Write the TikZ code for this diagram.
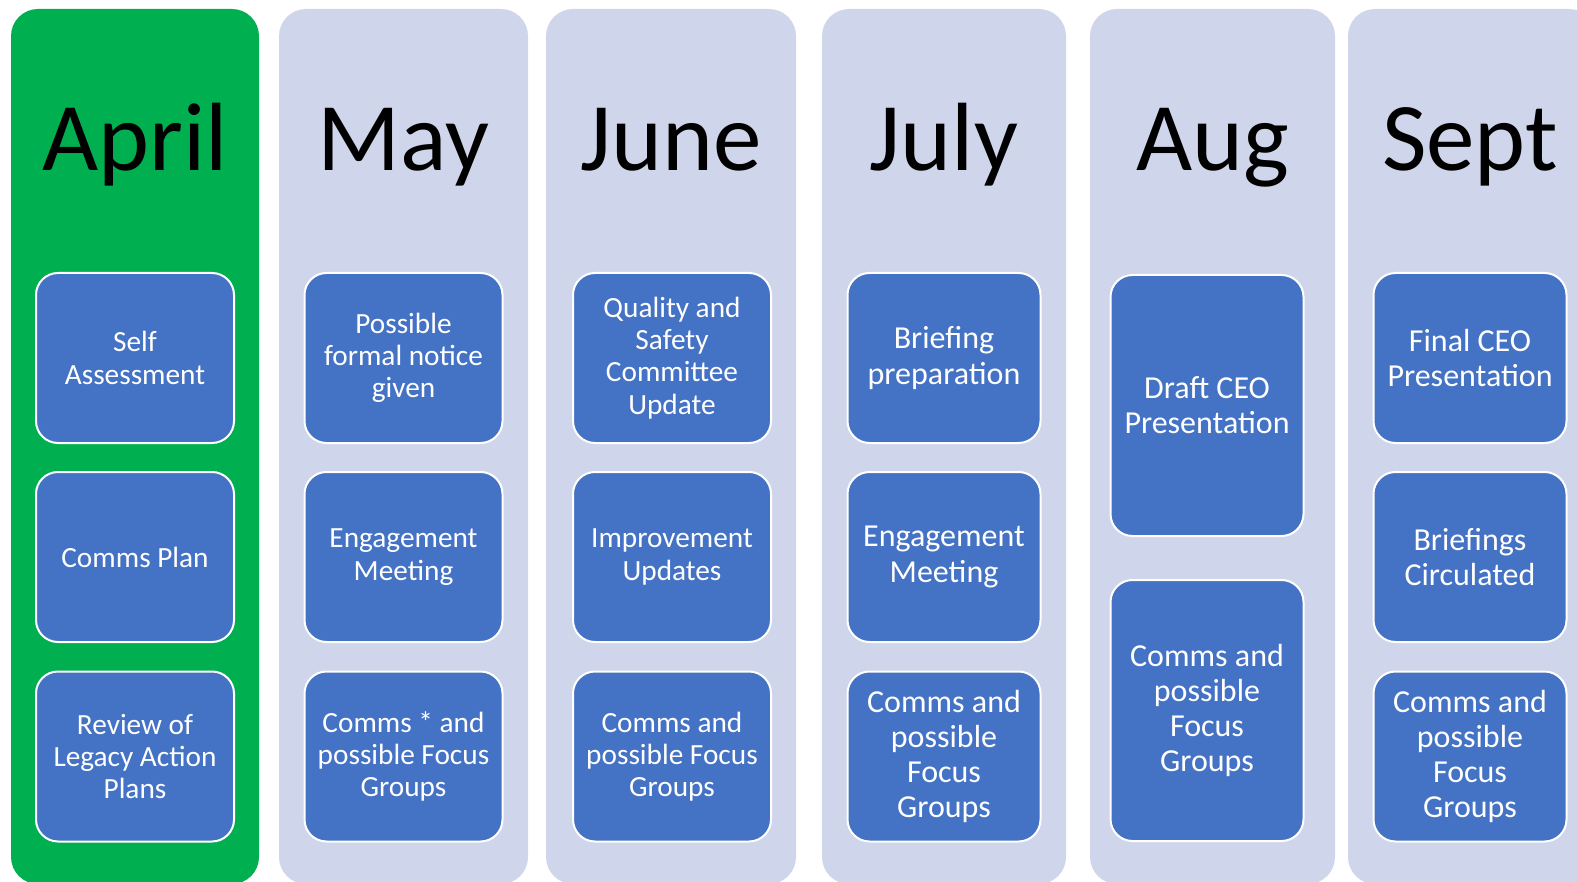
\documentclass[tikz,border=0pt]{standalone}
\usepackage{fontspec}
\setmainfont{Carlito}
\definecolor{aprilgreen}{HTML}{00B050}
\definecolor{monthgrey}{HTML}{CFD5EA}
\definecolor{taskblue}{HTML}{4472C4}
\begin{document}
\begin{tikzpicture}[x=1pt,y=-1pt]
	\tikzstyle{Column} = [rounded corners=27pt]
	\tikzstyle{Title} = [font=\fontsize{97}{97}\selectfont, anchor=base, inner sep=0pt]
	\tikzstyle{Task} = [rectangle, rounded corners=22pt, minimum width=198pt, minimum height=170pt, draw=white, line width=2pt, fill=taskblue, text=white, align=center, inner sep=0pt, font=\fontsize{29.3}{32.3}\selectfont]
	\tikzstyle{TaskBig} = [Task, minimum width=193pt, font=\fontsize{32}{35.2}\selectfont]
	
	\clip (0,0) rectangle (1577,882);
	\fill [Column, aprilgreen] (11,9) rectangle (259,884);
	\fill [Column, monthgrey] (279,9) rectangle (528,884);
	\fill [Column, monthgrey] (546,9) rectangle (796,884);
	\fill [Column, monthgrey] (822,9) rectangle (1066,884);
	\fill [Column, monthgrey] (1090,9) rectangle (1335,884);
	\fill [Column, monthgrey] (1348,9) rectangle (1596,884);
	
	\node (april) [Title] at (135,171) {April};
	\node (may) [Title] at (403.5,171) {May};
	\node (june) [Title] at (671,171) {June};
	\node (july) [Title] at (944,171) {July};
	\node (aug) [Title] at (1213,171) {Aug};
	\node (sept) [Title] at (1470,171) {Sept};
	
	\node (april1) [Task] at (135,358) {Self\\Assessment};
	\node (april2) [Task] at (135,557) {Comms Plan};
	\node (april3) [Task] at (135,756.5) {Review of\\Legacy Action\\Plans};
	
	\node (may1) [Task] at (403.5,358) {Possible\\formal notice\\given};
	\node (may2) [Task] at (403.5,557) {Engagement\\Meeting};
	\node (may3) [Task] at (403.5,756.5) {Comms * and\\possible Focus\\Groups};
	
	\node (june1) [Task] at (672,358) {Quality and\\Safety\\Committee\\Update};
	\node (june2) [Task] at (672,557) {Improvement\\Updates};
	\node (june3) [Task] at (672,756.5) {Comms and\\possible Focus\\Groups};
	
	\node (july1) [TaskBig] at (944,358) {Briefing\\preparation};
	\node (july2) [TaskBig] at (944,557) {Engagement\\Meeting};
	\node (july3) [TaskBig] at (944,756.5) {Comms and\\possible\\Focus\\Groups};
	
	\node (aug1) [TaskBig, minimum height=261pt] at (1207,405.5) {Draft CEO\\Presentation};
	\node (aug2) [TaskBig, minimum height=261pt] at (1207,710.5) {Comms and\\possible\\Focus\\Groups};
	
	\node (sept1) [TaskBig] at (1470,358) {Final CEO\\Presentation};
	\node (sept2) [TaskBig] at (1470,557) {Briefings\\Circulated};
	\node (sept3) [TaskBig] at (1470,756.5) {Comms and\\possible\\Focus\\Groups};
\end{tikzpicture}
\end{document}
